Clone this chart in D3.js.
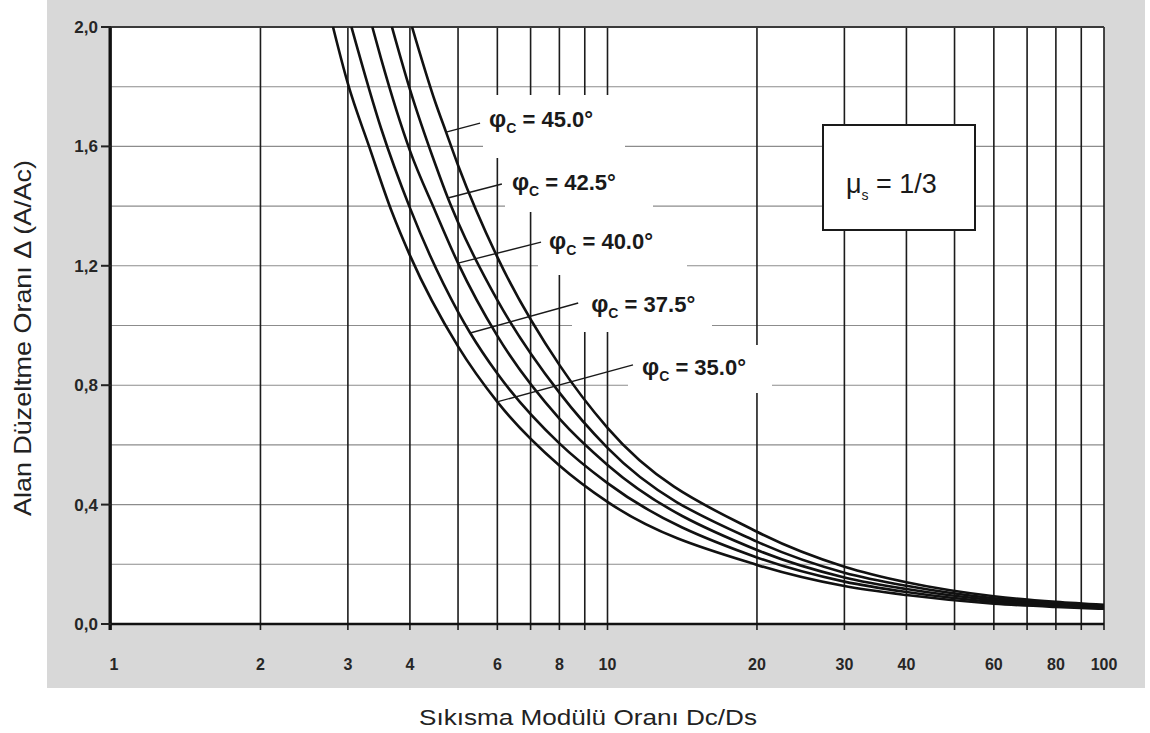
<!DOCTYPE html>
<html>
<head>
<meta charset="utf-8">
<script src="https://cdn.jsdelivr.net/npm/d3@7"></script>
<style>
  body { margin: 0; background: #fff; }
</style>
</head>
<body>
<div id="chart"></div>
<script>
// grid + tick values
const xGrid = [1, 2, 3, 4, 5, 6, 7, 8, 9, 10, 20, 30, 40, 50, 60, 70, 80, 90, 100];
const xTickLabels = [1, 2, 3, 4, 6, 8, 10, 20, 30, 40, 60, 80, 100];
const yGrid = [0.2, 0.4, 0.6, 0.8, 1.0, 1.2, 1.4, 1.6, 1.8];
const yTicks = [0, 0.4, 0.8, 1.2, 1.6, 2.0];
const yTickLabels = ["0,0", "0,4", "0,8", "1,2", "1,6", "2,0"];

// curves (x = Dc/Ds, y = delta)
const angles = ["45.0", "42.5", "40.0", "37.5", "35.0"];
const x45 = [4.04, 4.5, 4.73, 5, 6, 8, 10, 20, 30, 40, 60, 80, 100];
const d45 = [2.0, 1.748, 1.648, 1.537, 1.229, 0.868, 0.657, 0.309, 0.192, 0.140, 0.093, 0.074, 0.064];
const x425 = [3.68, 4, 4.5, 4.77, 5, 6, 8, 10, 20, 30, 40, 60, 80, 100];
const d425 = [2.0, 1.791, 1.54, 1.427, 1.346, 1.085, 0.775, 0.590, 0.276, 0.172, 0.128, 0.086, 0.069, 0.060];
const x40 = [3.36, 3.5, 4, 4.5, 5, 6, 8, 10, 20, 30, 40, 60, 80, 100];
const d40 = [2.0, 1.893, 1.586, 1.382, 1.209, 0.965, 0.688, 0.533, 0.248, 0.156, 0.117, 0.080, 0.065, 0.057];
const x375 = [3.05, 3.5, 4, 5, 5.29, 6, 8, 10, 20, 30, 40, 60, 80, 100];
const d375 = [2.0, 1.66, 1.394, 1.046, 0.975, 0.839, 0.605, 0.472, 0.223, 0.142, 0.107, 0.074, 0.061, 0.054];
const x35 = [2.80, 3.0, 3.31, 3.68, 4, 5, 6, 8, 10, 20, 30, 40, 60, 80, 100];
const d35 = [2.0, 1.81, 1.6, 1.38, 1.235, 0.93, 0.744, 0.531, 0.409, 0.198, 0.127, 0.097, 0.068, 0.057, 0.051];

// point on each curve where the label's leader line ends
const leaderX = [4.73, 4.77, 5.0, 5.29, 5.99];
const leaderY = [1.648, 1.427, 1.209, 0.975, 0.744];

const curves = [
  { xs: x45, ds: d45 },
  { xs: x425, ds: d425 },
  { xs: x40, ds: d40 },
  { xs: x375, ds: d375 },
  { xs: x35, ds: d35 },
];

const W = 1150, H = 733;
const svg = d3.select("#chart").append("svg")
  .attr("width", W).attr("height", H);

const x = d3.scaleLog().domain([1, 100]).range([111, 1104]);
const y = d3.scaleLinear().domain([0, 2]).range([624, 27]);

// scanned grey paper
svg.append("rect")
  .attr("x", 47).attr("y", 0).attr("width", 1098).attr("height", 688)
  .attr("fill", "#d8d8d8");

// plot area
svg.append("rect")
  .attr("x", x(1)).attr("y", y(2))
  .attr("width", x(100) - x(1)).attr("height", y(0) - y(2))
  .attr("fill", "#fff");

// horizontal grid
svg.append("g").selectAll("line").data(yGrid).join("line")
  .attr("x1", x(1)).attr("x2", x(100))
  .attr("y1", d => y(d)).attr("y2", d => y(d))
  .attr("stroke", "#8c8c8c").attr("stroke-width", 1.1);

// vertical grid (runs a little below the axis as tick marks)
svg.append("g").selectAll("line").data(xGrid).join("line")
  .attr("x1", d => x(d)).attr("x2", d => x(d))
  .attr("y1", y(2)).attr("y2", y(0) + 6)
  .attr("stroke", "#1c1c1c").attr("stroke-width", 1.6);

// white patches the labels sit on (they blank the grid)
const labelBoxes = [
  [483, 95, 142, 63],
  [505, 158, 148, 54],
  [538, 212, 149, 63],
  [572, 275, 140, 57],
  [628, 345, 144, 48],
];
svg.append("g").selectAll("rect").data(labelBoxes).join("rect")
  .attr("x", d => d[0]).attr("y", d => d[1])
  .attr("width", d => d[2]).attr("height", d => d[3])
  .attr("fill", "#fff");

// frame
svg.append("line")
  .attr("x1", x(1)).attr("x2", x(100)).attr("y1", y(2)).attr("y2", y(2))
  .attr("stroke", "#3a3a3a").attr("stroke-width", 2);
svg.append("line")
  .attr("x1", x(1) - 1).attr("x2", x(1) - 1).attr("y1", y(2)).attr("y2", y(0) + 6)
  .attr("stroke", "#111").attr("stroke-width", 3);
svg.append("line")
  .attr("x1", x(1) - 2).attr("x2", x(100)).attr("y1", y(0)).attr("y2", y(0))
  .attr("stroke", "#111").attr("stroke-width", 2.6);

// y ticks + labels
svg.append("g").selectAll("line").data(yTicks).join("line")
  .attr("x1", x(1) - 10).attr("x2", x(1))
  .attr("y1", d => y(d)).attr("y2", d => y(d))
  .attr("stroke", "#222").attr("stroke-width", 2);
svg.append("g").selectAll("text").data(yTicks).join("text")
  .attr("x", x(1) - 13).attr("y", d => y(d) + 6)
  .attr("text-anchor", "end")
  .attr("font-family", "Liberation Sans, Arial, sans-serif")
  .attr("font-weight", "bold").attr("font-size", 17)
  .attr("fill", "#262626")
  .text((d, i) => yTickLabels[i]);

// x tick labels
svg.append("g").selectAll("text").data(xTickLabels).join("text")
  .attr("x", d => x(d) + (d == 1 ? 3 : 0)).attr("y", 670)
  .attr("text-anchor", "middle")
  .attr("font-family", "Liberation Sans, Arial, sans-serif")
  .attr("font-weight", "bold").attr("font-size", 16)
  .attr("fill", "#262626")
  .text(d => d);

// curves
const line = d3.line()
  .x(d => x(d[0])).y(d => y(d[1]))
  .curve(d3.curveMonotoneX);
svg.append("g").selectAll("path").data(curves).join("path")
  .attr("d", c => line(c.xs.map((v, i) => [v, c.ds[i]])))
  .attr("fill", "none")
  .attr("stroke", "#111").attr("stroke-width", 2.6);

// leaders + labels (offsets from curve point to label)
const leaderOff = [[34, -9], [54, -14], [83, -21], [108, -30], [136, -37]];
const textOff = [[9, 4], [10, 6], [8, 7], [13, 9], [9, 10]];
angles.forEach((a, i) => {
  const ex = x(leaderX[i]), ey = y(leaderY[i]);
  const sx = ex + leaderOff[i][0], sy = ey + leaderOff[i][1];
  svg.append("line")
    .attr("x1", sx).attr("y1", sy).attr("x2", ex).attr("y2", ey)
    .attr("stroke", "#1a1a1a").attr("stroke-width", 1.4);
  const t = svg.append("text")
    .attr("x", sx + textOff[i][0]).attr("y", sy + textOff[i][1])
    .attr("font-family", "Liberation Sans, Arial, sans-serif")
    .attr("font-weight", "bold").attr("font-size", 22)
    .attr("fill", "#1a1a1a");
  t.append("tspan").attr("font-size", 24).text("φ");
  t.append("tspan").attr("font-size", 14).attr("dy", 6).text("C");
  t.append("tspan").attr("dy", -6).text(" = " + a + "°");
});

// mu_s box
svg.append("rect")
  .attr("x", 823).attr("y", 125).attr("width", 152).attr("height", 105)
  .attr("fill", "#fff").attr("stroke", "#1a1a1a").attr("stroke-width", 2);
const mu = svg.append("text")
  .attr("x", 846).attr("y", 193)
  .attr("font-family", "Liberation Sans, Arial, sans-serif")
  .attr("font-size", 27).attr("fill", "#1a1a1a");
mu.append("tspan").text("μ");
mu.append("tspan").attr("font-size", 14).attr("dy", 7).text("s");
mu.append("tspan").attr("dy", -7).text(" = 1/3");

// axis titles
svg.append("text")
  .attr("x", 588).attr("y", 725)
  .attr("text-anchor", "middle")
  .attr("font-family", "Liberation Sans, Arial, sans-serif")
  .attr("font-size", 22).attr("fill", "#222")
  .attr("textLength", 338).attr("lengthAdjust", "spacingAndGlyphs")
  .text("Sıkısma Modülü Oranı Dc/Ds");
svg.append("text")
  .attr("transform", "translate(31,338) rotate(-90)")
  .attr("text-anchor", "middle")
  .attr("font-family", "Liberation Sans, Arial, sans-serif")
  .attr("font-size", 24).attr("fill", "#222")
  .attr("textLength", 356).attr("lengthAdjust", "spacingAndGlyphs")
  .text("Alan Düzeltme Oranı Δ (A/Ac)");
</script>
</body>
</html>
